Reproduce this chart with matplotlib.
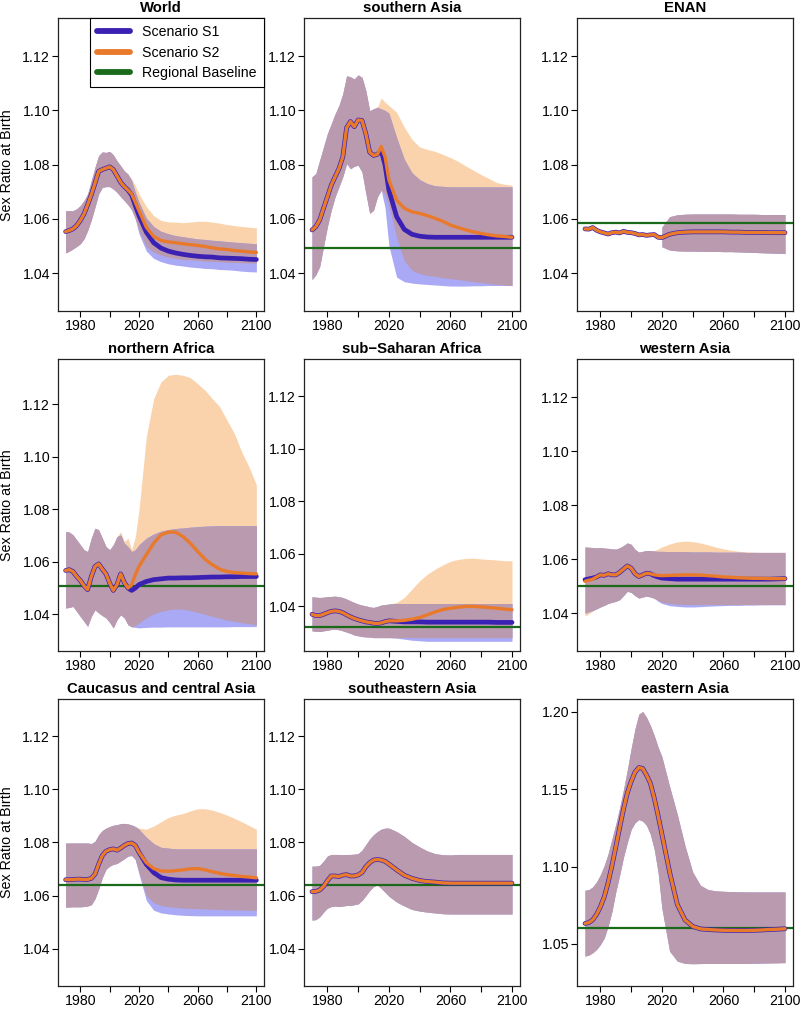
import numpy as np
import matplotlib.pyplot as plt
from matplotlib.lines import Line2D

plt.rcParams['font.family'] = ['Liberation Sans', 'DejaVu Sans']

# x grid: 2.5-year steps for the estimates, 5-year steps for the projections
years = np.concatenate([np.arange(1970, 2020, 2.5), np.arange(2020, 2101, 5)])
nan = np.nan

# ---- World ----
world_s1 = [1.0553, 1.0557, 1.0563, 1.0575, 1.0594, 1.0618, 1.0652, 1.0689, 1.0731, 1.0775, 1.0782, 1.0787, 1.0792, 1.0782, 1.0759, 1.0735, 1.0719, 1.0706, 1.0688, 1.0649,
            1.0612, 1.0551, 1.0512, 1.0492, 1.0481, 1.0474, 1.0469, 1.0465, 1.0462, 1.0460, 1.0459, 1.0456, 1.0455, 1.0454, 1.0453, 1.0451, 1.0450]
world_s2 = [1.0553, 1.0557, 1.0563, 1.0575, 1.0594, 1.0618, 1.0652, 1.0689, 1.0731, 1.0775, 1.0782, 1.0787, 1.0792, 1.0782, 1.0759, 1.0735, 1.0719, 1.0706, 1.0692, 1.0661,
            1.0630, 1.0569, 1.0535, 1.0520, 1.0515, 1.0512, 1.0508, 1.0505, 1.0502, 1.0498, 1.0493, 1.0489, 1.0487, 1.0483, 1.0481, 1.0478, 1.0476]
world_s1_hi = [1.0630, 1.0630, 1.0630, 1.0637, 1.0649, 1.0667, 1.0692, 1.0741, 1.0790, 1.0833, 1.0847, 1.0845, 1.0849, 1.0836, 1.0814, 1.0796, 1.0777, 1.0765, 1.0741, 1.0698,
               1.0661, 1.0603, 1.0572, 1.0554, 1.0545, 1.0538, 1.0534, 1.0530, 1.0526, 1.0524, 1.0521, 1.0519, 1.0516, 1.0514, 1.0512, 1.0510, 1.0508]
world_s2_hi = [1.0630, 1.0630, 1.0630, 1.0637, 1.0649, 1.0667, 1.0692, 1.0741, 1.0790, 1.0833, 1.0847, 1.0845, 1.0849, 1.0836, 1.0814, 1.0796, 1.0777, 1.0765, 1.0747, 1.0722,
               1.0692, 1.0645, 1.0612, 1.0594, 1.0589, 1.0588, 1.0586, 1.0588, 1.0591, 1.0591, 1.0588, 1.0584, 1.0579, 1.0575, 1.0572, 1.0569, 1.0567]
world_s1_lo = [1.0474, 1.0481, 1.0489, 1.0498, 1.0508, 1.0526, 1.0557, 1.0596, 1.0643, 1.0692, 1.0716, 1.0719, 1.0719, 1.0710, 1.0698, 1.0682, 1.0667, 1.0652, 1.0633, 1.0600,
               1.0545, 1.0481, 1.0454, 1.0442, 1.0434, 1.0429, 1.0426, 1.0422, 1.0420, 1.0417, 1.0416, 1.0413, 1.0412, 1.0410, 1.0407, 1.0405, 1.0404]
world_s2_lo = [1.0474, 1.0481, 1.0489, 1.0498, 1.0508, 1.0526, 1.0557, 1.0596, 1.0643, 1.0692, 1.0716, 1.0719, 1.0719, 1.0710, 1.0698, 1.0682, 1.0667, 1.0652, 1.0633, 1.0600,
               1.0557, 1.0498, 1.0477, 1.0466, 1.0459, 1.0454, 1.0450, 1.0449, 1.0447, 1.0444, 1.0443, 1.0442, 1.0440, 1.0439, 1.0438, 1.0437, 1.0437]

# ---- southern Asia ----
sasia_s1 = [1.0559, 1.0571, 1.0596, 1.0639, 1.0681, 1.0724, 1.0755, 1.0785, 1.0828, 1.0936, 1.0959, 1.0940, 1.0965, 1.0963, 1.0914, 1.0846, 1.0834, 1.0838, 1.0853, 1.0798,
            1.0706, 1.0608, 1.0561, 1.0543, 1.0536, 1.0533, 1.0532, 1.0532, 1.0532, 1.0532, 1.0532, 1.0532, 1.0532, 1.0532, 1.0532, 1.0532, 1.0532]
sasia_s2 = [1.0559, 1.0571, 1.0596, 1.0639, 1.0681, 1.0724, 1.0755, 1.0785, 1.0828, 1.0936, 1.0959, 1.0940, 1.0965, 1.0963, 1.0914, 1.0846, 1.0834, 1.0838, 1.0867, 1.0828,
            1.0743, 1.0669, 1.0639, 1.0626, 1.0620, 1.0612, 1.0602, 1.0591, 1.0577, 1.0568, 1.0559, 1.0552, 1.0546, 1.0541, 1.0537, 1.0535, 1.0532]
sasia_s1_hi = [1.0755, 1.0767, 1.0816, 1.0865, 1.0914, 1.0950, 1.0987, 1.1018, 1.1061, 1.1128, 1.1124, 1.1116, 1.1131, 1.1122, 1.1073, 1.0999, 1.1006, 1.1012, 1.1006, 1.1000,
               1.0990, 1.0900, 1.0820, 1.0770, 1.0745, 1.0730, 1.0722, 1.0720, 1.0718, 1.0718, 1.0718, 1.0718, 1.0718, 1.0718, 1.0718, 1.0718, 1.0718]
sasia_s2_hi = [1.0755, 1.0767, 1.0816, 1.0865, 1.0914, 1.0950, 1.0987, 1.1018, 1.1061, 1.1128, 1.1124, 1.1116, 1.1131, 1.1122, 1.1073, 1.0999, 1.1006, 1.1012, 1.1046, 1.1030,
               1.1018, 1.0993, 1.0938, 1.0893, 1.0865, 1.0856, 1.0849, 1.0838, 1.0826, 1.0812, 1.0795, 1.0779, 1.0763, 1.0749, 1.0734, 1.0728, 1.0724]
sasia_s1_lo = [1.0376, 1.0394, 1.0424, 1.0498, 1.0571, 1.0632, 1.0681, 1.0718, 1.0755, 1.0804, 1.0785, 1.0794, 1.0798, 1.0773, 1.0694, 1.0620, 1.0632, 1.0681, 1.0706, 1.0640,
               1.0500, 1.0385, 1.0368, 1.0363, 1.0360, 1.0358, 1.0356, 1.0354, 1.0352, 1.0352, 1.0352, 1.0353, 1.0353, 1.0354, 1.0354, 1.0354, 1.0354]
sasia_s2_lo = [1.0376, 1.0394, 1.0424, 1.0498, 1.0571, 1.0632, 1.0681, 1.0718, 1.0755, 1.0804, 1.0785, 1.0794, 1.0798, 1.0773, 1.0694, 1.0620, 1.0632, 1.0681, 1.0706, 1.0690,
               1.0650, 1.0530, 1.0445, 1.0410, 1.0398, 1.0391, 1.0388, 1.0383, 1.0379, 1.0376, 1.0372, 1.0368, 1.0365, 1.0361, 1.0358, 1.0356, 1.0354]

# ---- ENAN (both scenarios coincide) ----
enan_s1 = [1.0563, 1.0562, 1.0568, 1.0558, 1.0552, 1.0548, 1.0544, 1.0549, 1.0551, 1.0548, 1.0554, 1.0550, 1.0549, 1.0546, 1.0541, 1.0542, 1.0539, 1.0541, 1.0542, 1.0532,
           1.0531, 1.0543, 1.0549, 1.0551, 1.0552, 1.0552, 1.0552, 1.0552, 1.0552, 1.0551, 1.0551, 1.0550, 1.0550, 1.0550, 1.0549, 1.0549, 1.0549]
enan_hi = [nan] * 20 + [1.0570, 1.0608, 1.0615, 1.0617, 1.0618, 1.0618, 1.0618, 1.0618, 1.0618, 1.0618, 1.0617, 1.0617, 1.0617, 1.0616, 1.0616, 1.0616, 1.0616]
enan_lo = [nan] * 20 + [1.0497, 1.0485, 1.0482, 1.0481, 1.0481, 1.0480, 1.0480, 1.0480, 1.0479, 1.0479, 1.0478, 1.0477, 1.0476, 1.0475, 1.0474, 1.0473, 1.0472]

# ---- northern Africa ----
nafr_s1 = [1.0566, 1.0569, 1.0562, 1.0543, 1.0528, 1.0508, 1.0493, 1.0543, 1.0581, 1.0591, 1.0571, 1.0553, 1.0518, 1.0490, 1.0512, 1.0553, 1.0520, 1.0499, 1.0490, 1.0499,
           1.0512, 1.0524, 1.0531, 1.0534, 1.0537, 1.0537, 1.0538, 1.0538, 1.0539, 1.0540, 1.0541, 1.0541, 1.0542, 1.0542, 1.0543, 1.0543, 1.0543]
nafr_s2 = [1.0566, 1.0569, 1.0562, 1.0543, 1.0528, 1.0508, 1.0493, 1.0543, 1.0581, 1.0591, 1.0571, 1.0553, 1.0518, 1.0490, 1.0512, 1.0553, 1.0520, 1.0499, 1.0512, 1.0550,
           1.0581, 1.0626, 1.0670, 1.0702, 1.0712, 1.0712, 1.0695, 1.0670, 1.0638, 1.0609, 1.0588, 1.0571, 1.0562, 1.0558, 1.0556, 1.0554, 1.0553]
nafr_s1_hi = [1.0714, 1.0712, 1.0702, 1.0683, 1.0664, 1.0645, 1.0638, 1.0689, 1.0727, 1.0721, 1.0689, 1.0657, 1.0645, 1.0664, 1.0695, 1.0702, 1.0670, 1.0657, 1.0638, 1.0645,
              1.0664, 1.0689, 1.0705, 1.0716, 1.0722, 1.0726, 1.0728, 1.0731, 1.0733, 1.0735, 1.0736, 1.0737, 1.0737, 1.0737, 1.0737, 1.0737, 1.0737]
nafr_s2_hi = [1.0714, 1.0712, 1.0702, 1.0683, 1.0664, 1.0645, 1.0638, 1.0689, 1.0727, 1.0721, 1.0689, 1.0657, 1.0645, 1.0664, 1.0695, 1.0714, 1.0676, 1.0689, 1.0645, 1.0695,
              1.0797, 1.1076, 1.1221, 1.1285, 1.1310, 1.1314, 1.1310, 1.1301, 1.1278, 1.1253, 1.1221, 1.1190, 1.1139, 1.1088, 1.1018, 1.0961, 1.0892]
nafr_s1_lo = [1.0423, 1.0425, 1.0429, 1.0410, 1.0391, 1.0372, 1.0353, 1.0391, 1.0416, 1.0404, 1.0394, 1.0385, 1.0368, 1.0347, 1.0378, 1.0397, 1.0385, 1.0359, 1.0351, 1.0349,
              1.0347, 1.0349, 1.0350, 1.0350, 1.0351, 1.0351, 1.0351, 1.0351, 1.0351, 1.0351, 1.0351, 1.0351, 1.0351, 1.0352, 1.0352, 1.0352, 1.0352]
nafr_s2_lo = [1.0423, 1.0425, 1.0429, 1.0410, 1.0391, 1.0372, 1.0353, 1.0391, 1.0416, 1.0404, 1.0394, 1.0385, 1.0368, 1.0347, 1.0378, 1.0397, 1.0385, 1.0359, 1.0351, 1.0356,
              1.0366, 1.0385, 1.0401, 1.0410, 1.0416, 1.0419, 1.0418, 1.0413, 1.0406, 1.0399, 1.0391, 1.0384, 1.0377, 1.0372, 1.0367, 1.0363, 1.0359]

# ---- sub-Saharan Africa ----
ssa_s1 = [1.0369, 1.0364, 1.0364, 1.0369, 1.0375, 1.0380, 1.0382, 1.0380, 1.0375, 1.0367, 1.0359, 1.0353, 1.0348, 1.0344, 1.0340, 1.0338, 1.0335, 1.0334, 1.0336, 1.0341,
          1.0344, 1.0342, 1.0340, 1.0340, 1.0340, 1.0339, 1.0339, 1.0339, 1.0339, 1.0339, 1.0339, 1.0339, 1.0339, 1.0339, 1.0338, 1.0338, 1.0338]
ssa_s2 = [1.0369, 1.0364, 1.0364, 1.0369, 1.0375, 1.0380, 1.0382, 1.0380, 1.0375, 1.0367, 1.0359, 1.0353, 1.0348, 1.0344, 1.0340, 1.0338, 1.0335, 1.0334, 1.0336, 1.0341,
          1.0344, 1.0344, 1.0346, 1.0350, 1.0357, 1.0367, 1.0378, 1.0387, 1.0392, 1.0396, 1.0399, 1.0399, 1.0397, 1.0395, 1.0392, 1.0389, 1.0386]
ssa_s1_hi = [1.0436, 1.0434, 1.0433, 1.0434, 1.0436, 1.0437, 1.0438, 1.0436, 1.0433, 1.0427, 1.0420, 1.0414, 1.0408, 1.0404, 1.0401, 1.0397, 1.0395, 1.0399, 1.0404, 1.0406,
             1.0408, 1.0410, 1.0410, 1.0410, 1.0410, 1.0410, 1.0410, 1.0410, 1.0410, 1.0410, 1.0410, 1.0410, 1.0410, 1.0410, 1.0410, 1.0410, 1.0410]
ssa_s2_hi = [1.0436, 1.0434, 1.0433, 1.0434, 1.0436, 1.0437, 1.0438, 1.0436, 1.0433, 1.0427, 1.0420, 1.0414, 1.0408, 1.0404, 1.0401, 1.0397, 1.0395, 1.0399, 1.0404, 1.0406,
             1.0408, 1.0414, 1.0433, 1.0465, 1.0497, 1.0522, 1.0541, 1.0557, 1.0571, 1.0578, 1.0582, 1.0583, 1.0580, 1.0578, 1.0576, 1.0573, 1.0573]
ssa_s1_lo = [1.0306, 1.0304, 1.0303, 1.0306, 1.0308, 1.0311, 1.0312, 1.0310, 1.0306, 1.0301, 1.0296, 1.0290, 1.0287, 1.0284, 1.0283, 1.0282, 1.0280, 1.0280, 1.0280, 1.0280,
             1.0280, 1.0278, 1.0274, 1.0270, 1.0268, 1.0266, 1.0266, 1.0266, 1.0266, 1.0266, 1.0266, 1.0266, 1.0266, 1.0266, 1.0266, 1.0266, 1.0266]
ssa_s2_lo = [1.0306, 1.0304, 1.0303, 1.0306, 1.0308, 1.0311, 1.0312, 1.0310, 1.0306, 1.0301, 1.0296, 1.0290, 1.0287, 1.0284, 1.0283, 1.0282, 1.0280, 1.0280, 1.0280, 1.0280,
             1.0280, 1.0280, 1.0280, 1.0280, 1.0280, 1.0280, 1.0280, 1.0280, 1.0280, 1.0280, 1.0280, 1.0280, 1.0280, 1.0280, 1.0280, 1.0280, 1.0280]

# ---- western Asia ----
wasia_s1 = [1.0524, 1.0527, 1.0530, 1.0534, 1.0542, 1.0540, 1.0546, 1.0542, 1.0542, 1.0551, 1.0563, 1.0575, 1.0567, 1.0546, 1.0536, 1.0542, 1.0548, 1.0546, 1.0539, 1.0534,
            1.0530, 1.0528, 1.0526, 1.0526, 1.0526, 1.0526, 1.0526, 1.0526, 1.0526, 1.0526, 1.0526, 1.0526, 1.0526, 1.0526, 1.0526, 1.0527, 1.0528]
wasia_s2 = [1.0518, 1.0522, 1.0526, 1.0534, 1.0542, 1.0540, 1.0546, 1.0542, 1.0542, 1.0551, 1.0563, 1.0575, 1.0567, 1.0546, 1.0536, 1.0542, 1.0548, 1.0546, 1.0542, 1.0540,
            1.0539, 1.0540, 1.0541, 1.0542, 1.0542, 1.0541, 1.0539, 1.0537, 1.0534, 1.0533, 1.0531, 1.0530, 1.0529, 1.0529, 1.0528, 1.0528, 1.0528]
wasia_s1_hi = [1.0645, 1.0644, 1.0643, 1.0642, 1.0643, 1.0641, 1.0640, 1.0638, 1.0637, 1.0642, 1.0650, 1.0660, 1.0655, 1.0636, 1.0626, 1.0629, 1.0632, 1.0632, 1.0630, 1.0629,
               1.0629, 1.0628, 1.0628, 1.0628, 1.0627, 1.0627, 1.0627, 1.0626, 1.0626, 1.0626, 1.0626, 1.0625, 1.0625, 1.0625, 1.0625, 1.0625, 1.0625]
wasia_s2_hi = [1.0645, 1.0644, 1.0643, 1.0642, 1.0643, 1.0641, 1.0640, 1.0638, 1.0637, 1.0642, 1.0650, 1.0660, 1.0655, 1.0636, 1.0626, 1.0629, 1.0632, 1.0632, 1.0632, 1.0638,
               1.0645, 1.0656, 1.0664, 1.0667, 1.0665, 1.0660, 1.0653, 1.0645, 1.0638, 1.0633, 1.0629, 1.0627, 1.0626, 1.0625, 1.0625, 1.0625, 1.0625]
wasia_s1_lo = [1.0400, 1.0405, 1.0410, 1.0416, 1.0423, 1.0429, 1.0436, 1.0440, 1.0444, 1.0450, 1.0465, 1.0481, 1.0477, 1.0465, 1.0456, 1.0460, 1.0463, 1.0460, 1.0455, 1.0444,
               1.0436, 1.0428, 1.0425, 1.0423, 1.0423, 1.0424, 1.0426, 1.0427, 1.0428, 1.0429, 1.0429, 1.0430, 1.0430, 1.0431, 1.0431, 1.0431, 1.0431]
wasia_s2_lo = [1.0389, 1.0398, 1.0407, 1.0416, 1.0423, 1.0429, 1.0436, 1.0440, 1.0444, 1.0450, 1.0465, 1.0481, 1.0477, 1.0465, 1.0456, 1.0460, 1.0463, 1.0460, 1.0455, 1.0448,
               1.0440, 1.0436, 1.0433, 1.0432, 1.0432, 1.0432, 1.0432, 1.0432, 1.0432, 1.0432, 1.0432, 1.0432, 1.0432, 1.0432, 1.0432, 1.0432, 1.0432]

# ---- Caucasus and central Asia ----
cca_s1 = [1.0660, 1.0660, 1.0661, 1.0662, 1.0662, 1.0661, 1.0661, 1.0665, 1.0681, 1.0718, 1.0751, 1.0767, 1.0773, 1.0776, 1.0771, 1.0779, 1.0789, 1.0796, 1.0798, 1.0789,
          1.0763, 1.0718, 1.0687, 1.0668, 1.0662, 1.0659, 1.0658, 1.0658, 1.0658, 1.0658, 1.0658, 1.0658, 1.0658, 1.0658, 1.0658, 1.0658, 1.0658]
cca_s2 = [1.0660, 1.0660, 1.0661, 1.0662, 1.0662, 1.0661, 1.0661, 1.0665, 1.0681, 1.0718, 1.0751, 1.0767, 1.0773, 1.0776, 1.0771, 1.0779, 1.0789, 1.0796, 1.0798, 1.0789,
          1.0763, 1.0724, 1.0702, 1.0693, 1.0692, 1.0694, 1.0697, 1.0701, 1.0702, 1.0697, 1.0690, 1.0684, 1.0679, 1.0676, 1.0672, 1.0670, 1.0667]
cca_s1_hi = [1.0798, 1.0798, 1.0798, 1.0798, 1.0798, 1.0798, 1.0798, 1.0796, 1.0804, 1.0829, 1.0845, 1.0854, 1.0860, 1.0865, 1.0867, 1.0871, 1.0872, 1.0870, 1.0866, 1.0860,
             1.0850, 1.0820, 1.0796, 1.0782, 1.0779, 1.0776, 1.0776, 1.0776, 1.0776, 1.0776, 1.0776, 1.0776, 1.0776, 1.0776, 1.0776, 1.0776, 1.0776]
cca_s2_hi = [1.0798, 1.0798, 1.0798, 1.0798, 1.0798, 1.0798, 1.0798, 1.0796, 1.0804, 1.0829, 1.0845, 1.0854, 1.0860, 1.0865, 1.0867, 1.0871, 1.0872, 1.0870, 1.0866, 1.0860,
             1.0854, 1.0850, 1.0862, 1.0878, 1.0894, 1.0903, 1.0909, 1.0919, 1.0927, 1.0927, 1.0922, 1.0913, 1.0903, 1.0891, 1.0878, 1.0864, 1.0850]
cca_s1_lo = [1.0557, 1.0557, 1.0558, 1.0558, 1.0558, 1.0559, 1.0561, 1.0566, 1.0588, 1.0625, 1.0668, 1.0699, 1.0711, 1.0718, 1.0721, 1.0730, 1.0739, 1.0749, 1.0751, 1.0736,
             1.0681, 1.0582, 1.0545, 1.0535, 1.0531, 1.0528, 1.0526, 1.0525, 1.0524, 1.0524, 1.0524, 1.0524, 1.0524, 1.0524, 1.0524, 1.0524, 1.0524]
cca_s2_lo = [1.0557, 1.0557, 1.0558, 1.0558, 1.0558, 1.0559, 1.0561, 1.0566, 1.0588, 1.0625, 1.0668, 1.0699, 1.0711, 1.0718, 1.0721, 1.0730, 1.0739, 1.0749, 1.0751, 1.0736,
             1.0687, 1.0600, 1.0573, 1.0563, 1.0558, 1.0556, 1.0553, 1.0552, 1.0551, 1.0550, 1.0549, 1.0548, 1.0547, 1.0546, 1.0546, 1.0545, 1.0545]

# ---- southeastern Asia (both scenarios coincide) ----
seasia_s1 = [1.0615, 1.0616, 1.0621, 1.0635, 1.0656, 1.0674, 1.0674, 1.0672, 1.0677, 1.0679, 1.0674, 1.0674, 1.0678, 1.0687, 1.0709, 1.0724, 1.0734, 1.0736, 1.0734, 1.0729,
             1.0719, 1.0697, 1.0677, 1.0665, 1.0657, 1.0653, 1.0651, 1.0648, 1.0647, 1.0647, 1.0647, 1.0647, 1.0647, 1.0647, 1.0647, 1.0647, 1.0647]
seasia_hi = [1.0711, 1.0711, 1.0714, 1.0730, 1.0749, 1.0755, 1.0755, 1.0755, 1.0754, 1.0755, 1.0755, 1.0756, 1.0758, 1.0771, 1.0792, 1.0813, 1.0829, 1.0841, 1.0850, 1.0854,
             1.0854, 1.0841, 1.0823, 1.0800, 1.0783, 1.0768, 1.0758, 1.0754, 1.0753, 1.0755, 1.0755, 1.0755, 1.0755, 1.0755, 1.0755, 1.0755, 1.0755]
seasia_lo = [1.0508, 1.0510, 1.0520, 1.0538, 1.0553, 1.0559, 1.0561, 1.0559, 1.0561, 1.0563, 1.0563, 1.0566, 1.0569, 1.0582, 1.0600, 1.0619, 1.0634, 1.0640, 1.0627, 1.0613,
             1.0598, 1.0576, 1.0561, 1.0548, 1.0542, 1.0538, 1.0535, 1.0532, 1.0531, 1.0531, 1.0531, 1.0531, 1.0531, 1.0531, 1.0531, 1.0531, 1.0531]

# ---- eastern Asia (both scenarios coincide) ----
easia_s1 = [1.0632, 1.0638, 1.0655, 1.0690, 1.0740, 1.0804, 1.0895, 1.1005, 1.1125, 1.1250, 1.1370, 1.1475, 1.1550, 1.1610, 1.1640, 1.1634, 1.1591, 1.1538, 1.1443, 1.1330,
            1.1209, 1.0964, 1.0755, 1.0655, 1.0613, 1.0597, 1.0593, 1.0590, 1.0588, 1.0587, 1.0587, 1.0587, 1.0588, 1.0590, 1.0593, 1.0595, 1.0598]
easia_hi = [1.0847, 1.0851, 1.0868, 1.0900, 1.0947, 1.1006, 1.1081, 1.1177, 1.1272, 1.1379, 1.1496, 1.1623, 1.1762, 1.1889, 1.1985, 1.2002, 1.1964, 1.1911, 1.1847, 1.1772,
            1.1709, 1.1517, 1.1336, 1.1134, 1.0964, 1.0879, 1.0851, 1.0843, 1.0840, 1.0838, 1.0837, 1.0836, 1.0836, 1.0836, 1.0836, 1.0836, 1.0836]
easia_lo = [1.0421, 1.0428, 1.0443, 1.0464, 1.0496, 1.0538, 1.0613, 1.0709, 1.0836, 1.0943, 1.1060, 1.1155, 1.1240, 1.1283, 1.1304, 1.1294, 1.1266, 1.1209, 1.1113, 1.0964,
            1.0730, 1.0453, 1.0389, 1.0374, 1.0372, 1.0373, 1.0374, 1.0374, 1.0374, 1.0374, 1.0374, 1.0374, 1.0375, 1.0376, 1.0377, 1.0378, 1.0379]

titles = ['World', 'southern Asia', 'ENAN',
          'northern Africa', 'sub\u2212Saharan Africa', 'western Asia',
          'Caucasus and central Asia', 'southeastern Asia', 'eastern Asia']
baselines = [None, 1.0493, 1.0585, 1.0508, 1.0321, 1.0501, 1.0641, 1.0640, 1.0602]

# (S1 median, S2 median, S1 lower, S1 upper, S2 lower, S2 upper)
panels = [
    (world_s1, world_s2, world_s1_lo, world_s1_hi, world_s2_lo, world_s2_hi),
    (sasia_s1, sasia_s2, sasia_s1_lo, sasia_s1_hi, sasia_s2_lo, sasia_s2_hi),
    (enan_s1, enan_s1, enan_lo, enan_hi, enan_lo, enan_hi),
    (nafr_s1, nafr_s2, nafr_s1_lo, nafr_s1_hi, nafr_s2_lo, nafr_s2_hi),
    (ssa_s1, ssa_s2, ssa_s1_lo, ssa_s1_hi, ssa_s2_lo, ssa_s2_hi),
    (wasia_s1, wasia_s2, wasia_s1_lo, wasia_s1_hi, wasia_s2_lo, wasia_s2_hi),
    (cca_s1, cca_s2, cca_s1_lo, cca_s1_hi, cca_s2_lo, cca_s2_hi),
    (seasia_s1, seasia_s1, seasia_lo, seasia_hi, seasia_lo, seasia_hi),
    (easia_s1, easia_s1, easia_lo, easia_hi, easia_lo, easia_hi),
]

# colours
S1_LINE = '#3b21b3'
S2_LINE = '#ea7a2b'
S1_BAND = '#aaa9f6'
S2_BAND = '#fad3ad'
BOTH_BAND = '#b99aae'
GREEN = '#1b6a1b'

# axes boxes in pixels (left, right) and (top, bottom)
W, H = 800, 1011
cols = [(58, 264), (304, 520), (577, 793)]
rows = [(18.3, 311), (359.3, 651), (699, 986)]
std_ylim = (1.026, 1.134)
ylims = [std_ylim, std_ylim, std_ylim,
         (1.0259, 1.1371), (1.0229, 1.1341), std_ylim,
         std_ylim, std_ylim, (1.0228, 1.2083)]


def draw_panel(ax, s1, s2, lo1, hi1, lo2, hi2, base):
    lo1, hi1, lo2, hi2 = (np.asarray(a, dtype=float) for a in (lo1, hi1, lo2, hi2))
    ax.fill_between(years, lo2, hi2, color=S2_BAND, lw=0)
    ax.fill_between(years, lo1, hi1, color=S1_BAND, lw=0)
    lo = np.maximum(lo1, lo2)
    hi = np.minimum(hi1, hi2)
    ax.fill_between(years, lo, hi, where=hi > lo, interpolate=True, color=BOTH_BAND, lw=0)
    if base is not None:
        ax.axhline(base, color=GREEN, lw=1.6)
    ax.plot(years, s1, color=S1_LINE, lw=3.4, solid_capstyle='round')
    ax.plot(years, s2, color=S2_LINE, lw=2.4, solid_capstyle='round')


fig = plt.figure(figsize=(W / 100, H / 100), dpi=100)

for i, (title, data, base, ylim) in enumerate(zip(titles, panels, baselines, ylims)):
    (x0, x1), (y0, y1) = cols[i % 3], rows[i // 3]
    ax = fig.add_axes([x0 / W, 1 - y1 / H, (x1 - x0) / W, (y1 - y0) / H])
    draw_panel(ax, *data, base)

    ax.set_xlim(1964.8, 2105.2)
    ax.set_ylim(*ylim)
    ax.set_xticks([1980, 2000, 2020, 2040, 2060, 2080, 2100])
    ax.set_xticklabels(['1980', '', '2020', '', '2060', '', '2100'])
    if i == 8:
        yt = [1.05, 1.10, 1.15, 1.20]
    else:
        yt = [1.04, 1.06, 1.08, 1.10, 1.12]
    ax.set_yticks(yt)
    ax.set_yticklabels(['%.2f' % v for v in yt])
    ax.tick_params(direction='out', length=4.5, width=0.8, labelsize=10.2, pad=1.2,
                   colors='black')
    for sp in ax.spines.values():
        sp.set_linewidth(0.9)
        sp.set_color('#222222')
    ax.set_title(title, fontsize=10.7, fontweight='bold', pad=4.6)

    if i % 3 == 0:
        ax.set_ylabel('Sex Ratio at Birth', fontsize=10.3)
        ax.yaxis.set_label_coords(-0.215, 0.5)

    if i == 0:
        handles = [Line2D([], [], color=S1_LINE, lw=4.2, solid_capstyle='round'),
                   Line2D([], [], color=S2_LINE, lw=4.2, solid_capstyle='round'),
                   Line2D([], [], color=GREEN, lw=4.2, solid_capstyle='round')]
        leg = ax.legend(handles, ['Scenario S1', 'Scenario S2', 'Regional Baseline'],
                        loc='upper right', borderaxespad=0, fancybox=False,
                        edgecolor='black', framealpha=1, fontsize=10.2,
                        handlelength=2.3, handletextpad=0.9, labelspacing=0.45,
                        borderpad=0.5)
        leg.get_frame().set_linewidth(0.8)

fig.savefig('out.png', dpi=100)
